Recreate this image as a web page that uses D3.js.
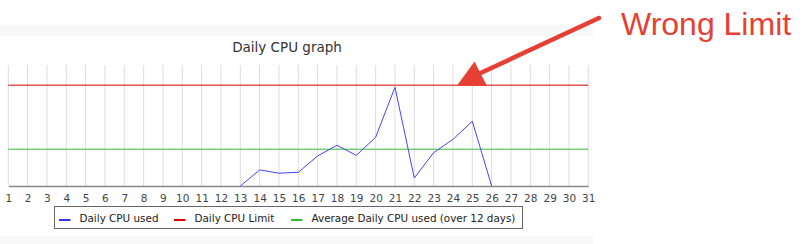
<!DOCTYPE html>
<html>
<head>
<meta charset="utf-8">
<script src="https://cdn.jsdelivr.net/npm/d3@7"></script>
<style>
  body { margin: 0; background: #fff; }
  svg { display: block; }
</style>
</head>
<body>
<div id="chart"></div>
<script>
// day numbers along the x axis
var days = d3.range(1, 32);
// daily CPU used (only days with data)
var usedDays = [13, 14, 15, 16, 17, 18, 19, 20, 21, 22, 23, 24, 25, 26];
var usedValues = [0, 15.9, 12.7, 13.6, 29.8, 40.4, 30.4, 48.3, 97.9, 7.9, 33.0, 46.3, 64.2, 0];
var limitValue = 100;
var averageValue = 36.5;
var legendLabels = ["Daily CPU used", "Daily CPU Limit", "Average Daily CPU used (over 12 days)"];
var legendColors = ["#3333ff", "#dd0000", "#33bb33"];

var width = 807, height = 244;

var svg = d3.select("#chart").append("svg")
    .attr("width", width)
    .attr("height", height);

// light grey bands of the surrounding page
svg.append("rect").attr("x", 0).attr("y", 25).attr("width", 593).attr("height", 11).attr("fill", "#f8f8f8");
svg.append("rect").attr("x", 0).attr("y", 236).attr("width", 593).attr("height", 8).attr("fill", "#f8f8f8");

var x = d3.scaleLinear().domain([1, 31]).range([8.3, 588.3]);
var y = d3.scaleLinear().domain([0, 120]).range([186, 65]);

svg.append("text")
  .attr("x", 287)
  .attr("y", 51.5)
  .attr("text-anchor", "middle")
  .style("font-family", "DejaVu Sans")
  .style("font-size", "13.5px")
  .style("fill", "#333")
  .text("Daily CPU graph");

// vertical grid
svg.append("g").selectAll("line")
  .data(days)
  .enter().append("line")
  .attr("x1", d => x(d)).attr("x2", d => x(d))
  .attr("y1", y.range()[1]).attr("y2", y.range()[0])
  .style("stroke", "#dddddd")
  .style("stroke-width", 1);

var xAxis = d3.axisBottom(x)
  .tickValues(days)
  .tickSize(0)
  .tickPadding(9)
  .tickFormat(d => d);

var ax = svg.append("g")
  .attr("transform", "translate(0," + y(0) + ")")
  .call(xAxis);
ax.select(".domain").style("stroke", "#888").style("stroke-width", 1.5);
ax.selectAll("text")
  .style("font-family", "DejaVu Sans")
  .style("font-size", "10.5px")
  .style("fill", "#444");

// limit and average lines
svg.append("line")
  .attr("x1", x(1)).attr("x2", x(31))
  .attr("y1", y(limitValue)).attr("y2", y(limitValue))
  .style("stroke", legendColors[1]).style("stroke-width", 1);
svg.append("line")
  .attr("x1", x(1)).attr("x2", x(31))
  .attr("y1", y(averageValue)).attr("y2", y(averageValue))
  .style("stroke", legendColors[2]).style("stroke-width", 1);

var line = d3.line()
  .x((d, i) => x(usedDays[i]))
  .y(d => y(d));

svg.append("path")
  .datum(usedValues)
  .attr("d", line)
  .style("fill", "none")
  .style("stroke", "#4444ff")
  .style("stroke-width", 1);

// legend
var legend = svg.append("g");
legend.append("rect")
  .attr("x", 54.5).attr("y", 206.5)
  .attr("width", 468).attr("height", 22)
  .style("fill", "#fff").style("stroke", "#666").style("stroke-width", 1);
var legendX = [59, 174, 291];
legendLabels.forEach(function(l, i) {
  legend.append("line")
    .attr("x1", legendX[i]).attr("x2", legendX[i] + 11.5)
    .attr("y1", 220).attr("y2", 220)
    .style("stroke", legendColors[i]).style("stroke-width", 2);
  legend.append("text")
    .attr("x", legendX[i] + 20.5)
    .attr("y", 221.5)
    .style("font-family", "DejaVu Sans")
    .style("font-size", "10.4px")
    .style("fill", "#222")
    .text(l);
});

// annotation
var red = "#e64035";
svg.append("line")
  .attr("x1", 599).attr("y1", 18)
  .attr("x2", 472).attr("y2", 77)
  .style("stroke", red).style("stroke-width", 4.5)
  .style("stroke-linecap", "round");
svg.append("path")
  .attr("d", "M457,85.5 L474.5,61.5 L487,86 Z")
  .style("fill", red);
svg.append("text")
  .attr("x", 621)
  .attr("y", 35)
  .style("font-family", "Liberation Sans")
  .style("font-size", "32px")
  .style("fill", red)
  .text("Wrong Limit");
</script>
</body>
</html>
